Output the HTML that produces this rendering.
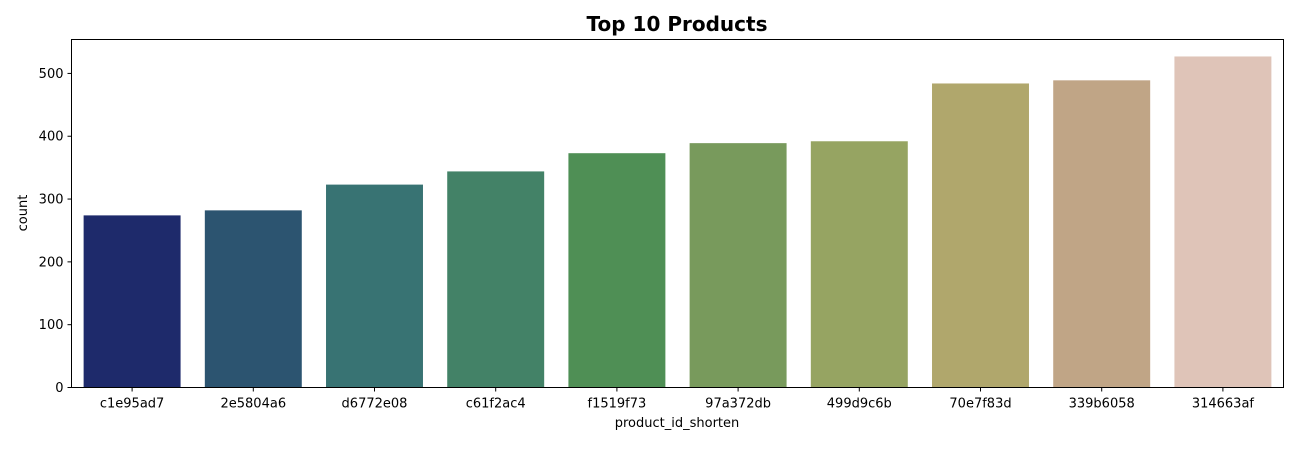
<!DOCTYPE html>
<html><head><meta charset="utf-8"><style>
body{margin:0;background:#fff;font-family:"Liberation Sans","DejaVu Sans",sans-serif;}
svg text{font-family:"DejaVu Sans","Liberation Sans",sans-serif;}
</style></head><body>
<svg id="chart" width="1298" height="445" xmlns="http://www.w3.org/2000/svg">
<text x="677" y="31" text-anchor="middle" font-size="20" font-weight="bold">Top 10 Products</text>
<g id="bars"></g><g id="xticks"></g><g id="yticks"></g>
<rect x="71.5" y="39.5" width="1212" height="348" fill="none" stroke="#000" stroke-width="1"/>
<text x="677" y="427" text-anchor="middle" font-size="13">product_id_shorten</text>
<text transform="translate(27,213) rotate(-90)" text-anchor="middle" font-size="13">count</text>
</svg>
<script>
const categories=["c1e95ad7","2e5804a6","d6772e08","c61f2ac4","f1519f73","97a372db","499d9c6b","70e7f83d","339b6058","314663af"];
const counts=[274,282,323,344,373,389,392,484,489,527];
const colors=["#1e2a6b","#2c5470","#387373","#438267","#4f8f55","#789a5c","#96a462","#b0a76c","#c0a586","#dfc4b8"];
const yTicks=[0,100,200,300,400,500];
const L=71.5,R=1283.5,T=39.5,B=387.5,yMax=554;
const NS="http://www.w3.org/2000/svg";
const band=(R-L)/categories.length;
function xPos(i){return L+band*i;}
function yPos(v){return B-(v/yMax)*(B-T);}
const gb=document.getElementById('bars'),gx=document.getElementById('xticks'),gy=document.getElementById('yticks');
categories.forEach((c,i)=>{
  const r=document.createElementNS(NS,'rect');
  const x=xPos(i)+band*0.1,w=band*0.8,y=yPos(counts[i]);
  r.setAttribute('x',x);r.setAttribute('y',y);r.setAttribute('width',w);r.setAttribute('height',B-y);
  r.setAttribute('fill',colors[i]);
  
  
  gb.appendChild(r);
  const cx=xPos(i)+band/2;
  const tk=document.createElementNS(NS,'line');
  tk.setAttribute('x1',cx);tk.setAttribute('x2',cx);tk.setAttribute('y1',B);tk.setAttribute('y2',B+4);tk.setAttribute('stroke','#000');
  
  
  gx.appendChild(tk);
  const t=document.createElementNS(NS,'text');
  t.setAttribute('x',cx);t.setAttribute('y',B+20);t.setAttribute('text-anchor','middle');t.setAttribute('font-size','13');
  t.textContent=c;
  
  
  gx.appendChild(t);
});
yTicks.forEach(v=>{
  const y=yPos(v);
  const tk=document.createElementNS(NS,'line');
  tk.setAttribute('x1',L-4);tk.setAttribute('x2',L);tk.setAttribute('y1',y);tk.setAttribute('y2',y);tk.setAttribute('stroke','#000');
  
  
  gy.appendChild(tk);
  const t=document.createElementNS(NS,'text');
  t.setAttribute('x',L-8);t.setAttribute('y',y+4.5);t.setAttribute('text-anchor','end');t.setAttribute('font-size','13');
  t.textContent=v;
  
  
  gy.appendChild(t);
});
</script>
</body></html>
